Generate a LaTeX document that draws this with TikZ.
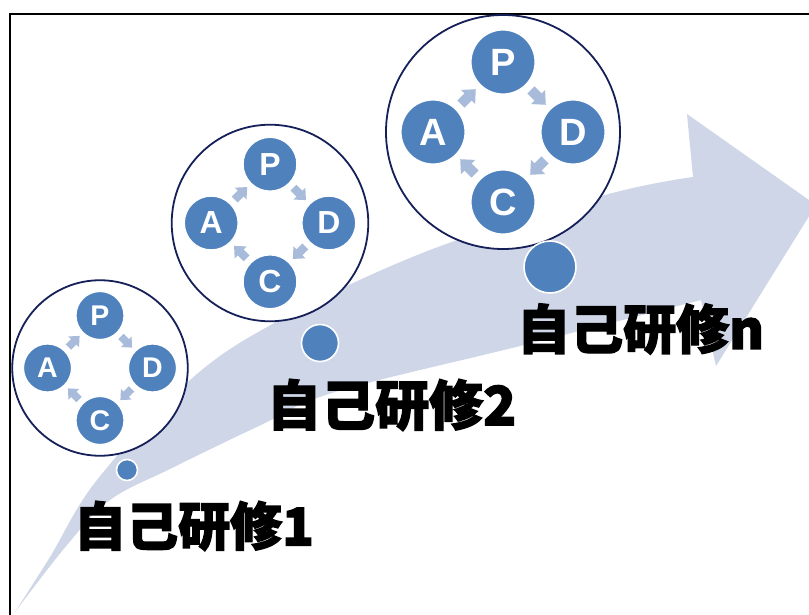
\documentclass[tikz,border=0pt]{standalone}
\usepackage{fontspec}
\newfontfamily\cjkfont{Noto Sans CJK JP}[FakeBold=2.5]
\newfontfamily\pdcafont{Liberation Sans}
\usetikzlibrary{calc}
\definecolor{nodeblue}{RGB}{79,129,189}
\definecolor{navy}{RGB}{22,32,88}
\definecolor{bandc}{RGB}{206,214,232}
\definecolor{arrowc}{RGB}{168,187,218}
\tikzset{
  ring/.style={circle, draw=navy, fill=white, line width=1.8pt, minimum size=234pt, inner sep=0pt},
  pnode/.style={circle, fill=nodeblue, draw=white, line width=1.2pt, minimum size=64pt, inner sep=0pt,
    text=white, font=\pdcafont\bfseries\fontsize{38}{38}\selectfont},
  dotnode/.style={circle, fill=nodeblue, draw=white, line width=1.6pt, inner sep=0pt},
  label/.style={anchor=west, inner sep=0pt, font=\cjkfont\bfseries\fontsize{#1}{#1}\selectfont},
  blk/.pic={\fill[arrowc] (-10,-5) -- (0,-5) -- (0,-10) -- (11,0) -- (0,10) -- (0,5) -- (-10,5) -- cycle;}
}
\newcommand\pdcagroup[4]{%
  \begin{scope}[shift={(#2,#3)}, scale=#4, transform shape]
    \node[ring] (ring#1) at (0,0) {};
    \node[pnode] (p#1) at (0,-70) {P};
    \node[pnode] (d#1) at (70,0) {D};
    \node[pnode] (c#1) at (0,70) {C};
    \node[pnode] (a#1) at (-70,0) {A};
    \pic[rotate=45] at ($(a#1)!0.5!(p#1)$) {blk};
    \pic[rotate=-45] at ($(p#1)!0.5!(d#1)$) {blk};
    \pic[rotate=-135] at ($(d#1)!0.5!(c#1)$) {blk};
    \pic[rotate=135] at ($(c#1)!0.5!(a#1)$) {blk};
  \end{scope}}
\begin{document}
\begin{tikzpicture}[x=1pt, y=-1pt]
  \useasboundingbox (0,0) rectangle (809,615);
  \fill[white] (0,0) rectangle (809,615);
  \begin{scope}
    \clip (0,0) rectangle (809,615);
    % band arrow
    \fill[bandc] plot[smooth, tension=0.6] coordinates {(15,612) (50,557) (97,480) (190,380) (280,320) (430,250) (605,195) (693,177)}
      -- (687,114) -- (816,205) -- (716,366) -- (701,300)
      -- plot[smooth, tension=0.6] coordinates {(701,300) (520,346) (335,392) (261,425) (172,468) (110,500) (67,545) (15,612)}
      -- cycle;
  \end{scope}
  % frame
  \draw[line width=2.6pt] (10,616) -- (10,14) -- (810,14);
  % PDCA groups
  \pdcagroup{1}{100}{368}{0.75}
  \pdcagroup{2}{270}{223}{0.84}
  \pdcagroup{3}{503}{132}{1}
  % dots
  \node[dotnode, minimum size=21pt] (s1) at (127,470) {};
  \node[dotnode, minimum size=37pt] (s2) at (320,343) {};
  \node[dotnode, minimum size=52pt] (s3) at (550,267) {};
  % labels
  \node[label=52] (t1) at (74,526) {自己研修1};
  \node[label=54] (t2) at (267,405) {自己研修2};
  \node[label=53] (tn) at (517,329) {自己研修n};
\end{tikzpicture}
\end{document}
